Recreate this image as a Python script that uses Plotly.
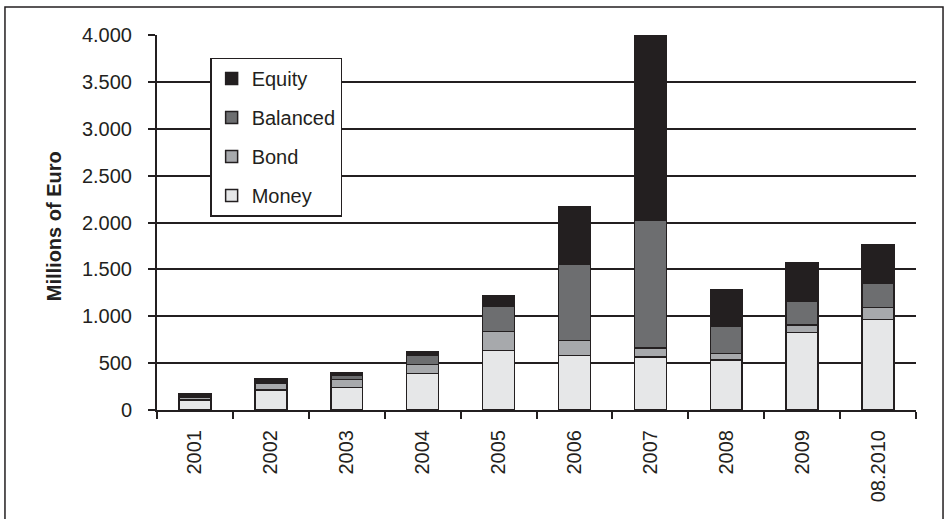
import plotly.graph_objects as go

categories = ["2001", "2002", "2003", "2004", "2005", "2006", "2007", "2008", "2009", "08.2010"]
money = [105, 213, 238, 391, 633, 583, 565, 533, 828, 967]
bond = [30, 75, 89, 93, 203, 160, 95, 71, 79, 125]
balanced = [15, 12, 46, 96, 270, 814, 1367, 292, 256, 256]
equity = [28, 38, 29, 42, 113, 612, 1973, 391, 409, 412]
y_ticks = [0, 500, 1000, 1500, 2000, 2500, 3000, 3500, 4000]

series = [
    ("Money", money, "#e6e7e8", 4),
    ("Bond", bond, "#a7a9ac", 3),
    ("Balanced", balanced, "#6d6e70", 2),
    ("Equity", equity, "#231f20", 1),
]

FONT = "Liberation Sans, Arial, sans-serif"
INK = "#231f20"

fig = go.Figure()
for name, vals, col, rank in series:
    fig.add_trace(go.Bar(
        x=categories, y=vals, name=name, legendgroup=name, legendrank=rank,
        marker=dict(color=col, line=dict(color=INK, width=1.5)),
    ))

fig.update_layout(
    width=945, height=519,
    barmode="stack", bargap=0.58,
    separators=",.",
    paper_bgcolor="white", plot_bgcolor="white",
    margin=dict(l=157, r=29, t=35, b=109),
    font=dict(family=FONT, size=20, color=INK),
    showlegend=True,
    legend=dict(
        x=0.07, y=0.94, xanchor="left", yanchor="top",
        traceorder="grouped", tracegroupgap=10,
        bordercolor=INK, borderwidth=1.5, bgcolor="white",
        font=dict(family=FONT, size=20, color=INK),
        itemwidth=30,
    ),
    xaxis=dict(
        type="category", tickson="boundaries", ticks="outside", ticklen=7,
        tickcolor=INK, tickwidth=1.5, showline=True, linecolor=INK, linewidth=2,
        tickangle=-90, tickfont=dict(size=20), showgrid=False,
        ticklabelstandoff=10,
    ),
    yaxis=dict(
        range=[0, 4000], tickvals=y_ticks, tickformat=",d", ticks="outside",
        ticklen=7, tickcolor=INK, tickwidth=1.5, showline=True, linecolor=INK,
        linewidth=2, showgrid=True, gridcolor=INK, gridwidth=1.5,
        tickfont=dict(size=20), zeroline=False, ticklabelstandoff=12,
    ),
    annotations=[dict(
        text="<b>Millions of Euro</b>", textangle=-90, x=-0.1357, y=0.49,
        xref="paper", yref="paper", xanchor="center", yanchor="middle",
        showarrow=False,
        font=dict(family=FONT, size=20, color=INK),
    )],
    shapes=[dict(
        type="rect", xref="paper", yref="paper",
        x0=-0.2003, x1=1.0356, y0=-0.31, y1=1.0747,
        line=dict(color=INK, width=1.5), fillcolor="rgba(0,0,0,0)",
    )],
)

fig.write_html("out.html")
